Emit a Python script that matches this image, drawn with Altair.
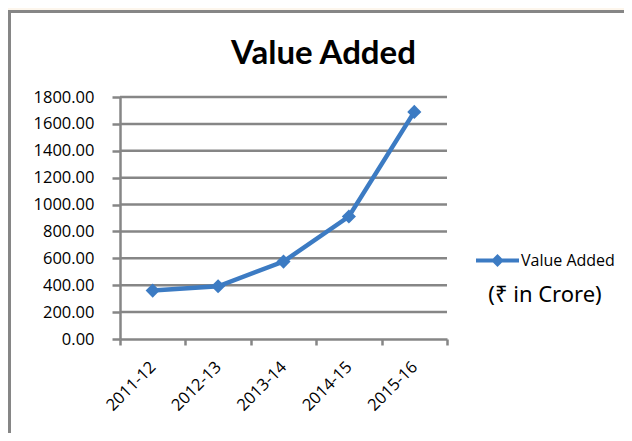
import altair as alt
import pandas as pd

years = ["2011-12", "2012-13", "2013-14", "2014-15", "2015-16"]
values = [360, 392, 576, 911, 1689]
series_name = ["Value Added"] * len(years)
y_ticks = [200, 400, 600, 800, 1000, 1200, 1400, 1600, 1800]

BLUE = "#3C7BC3"
GRAY = "#868686"
W, H = 327, 242

df = pd.DataFrame({"year": years, "value": values, "series": series_name})
grid_df = pd.DataFrame({"tick": y_ticks})

x_enc = alt.X(
    "year:N",
    sort=years,
    scale=alt.Scale(type="band", paddingInner=0, paddingOuter=0),
    axis=alt.Axis(
        title=None, tickBand="extent", domainColor=GRAY, domainWidth=2.5,
        tickColor=GRAY, tickWidth=2.5, tickSize=6, labelAngle=-45,
        labelAlign="right", labelBaseline="middle", labelPadding=19,
        labelFont="Open Sans", labelFontSize=16.5, labelColor="black",
        labelOverlap=False, zindex=1,
    ),
)
y_scale = alt.Scale(domain=[0, 1800], nice=False)
y_axis = alt.Axis(
    title=None, values=[0] + y_ticks, format=".2f", grid=False,
    domainColor=GRAY, domainWidth=2.5, tickColor=GRAY, tickWidth=2.5,
    tickSize=8, labelPadding=18, labelFont="Open Sans", labelFontSize=16.5,
    labelColor="black", labelOverlap=False, labelFlush=False, zindex=1,
)
y_enc = alt.Y("value:Q", scale=y_scale, axis=y_axis)

frame = alt.Chart(alt.Data(values=[{}])).mark_rect(
    fill="white", stroke=GRAY, strokeWidth=3
).encode(
    x=alt.value(-110.5), y=alt.value(-85.5), x2=alt.value(700), y2=alt.value(500)
)

grid = alt.Chart(grid_df).mark_rule(color=GRAY, strokeWidth=2.5).encode(
    y=alt.Y("tick:Q", scale=y_scale, axis=y_axis)
)

line = alt.Chart(df).mark_line(color=BLUE, strokeWidth=4.5).encode(x=x_enc, y=y_enc)

symbol_path = "M-1,-0.09L1,-0.09L1,0.09L-1,0.09Z M0,-0.3L0.3,0L0,0.3L-0.3,0Z"

points = alt.Chart(df).mark_point(
    shape="diamond", filled=True, size=200, opacity=1
).encode(
    x=x_enc,
    y=y_enc,
    color=alt.Color(
        "series:N",
        scale=alt.Scale(range=[BLUE]),
        legend=alt.Legend(
            title="(₹ in Crore)", titleOrient="bottom", titleAnchor="middle",
            titleFont="Noto Sans", titleFontSize=22, titleFontWeight="normal",
            titleColor="black", titlePadding=16,
            orient="none", legendX=356, legendY=142, padding=0,
            symbolType=symbol_path, symbolSize=1849, symbolOpacity=1,
            symbolStrokeWidth=0, labelOffset=2,
            labelFont="Open Sans", labelFontSize=16, labelColor="black",
        ),
    ),
)

chart = alt.layer(frame, grid, line, points).properties(
    width=W,
    height=H,
    background="#FDF6EC",
    padding={"left": 112, "top": 89, "right": 177, "bottom": 94},
    autosize=alt.AutoSizeParams(type="none"),
    title=alt.Title(
        "Value Added", font="Lato", fontSize=33, fontWeight="bold",
        color="black", anchor="middle", frame="group", dx=40, offset=-87,
        baseline="alphabetic",
    ),
).configure_view(stroke=None)

chart.save("out.html", embed_options={"renderer": "svg", "actions": False})
